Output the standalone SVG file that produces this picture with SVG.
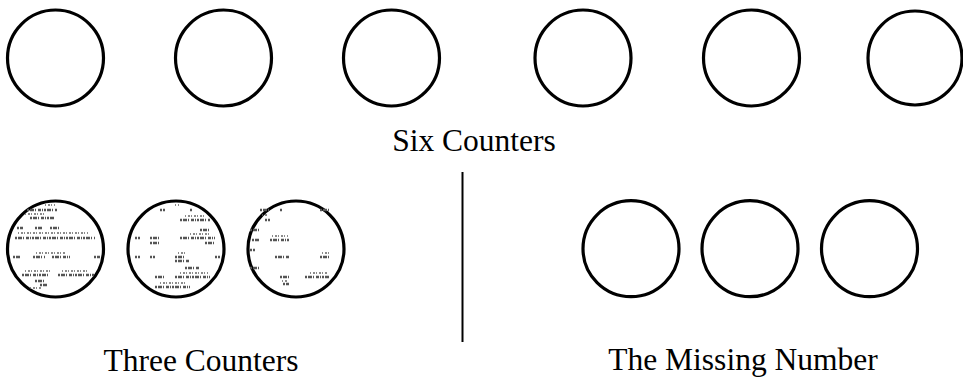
<svg xmlns="http://www.w3.org/2000/svg" width="963" height="379" viewBox="0 0 963 379">
<style>
.c{fill:#fff;stroke:#000;stroke-width:3.2}
.sp{fill:none;stroke:#555;stroke-width:2.5;stroke-dasharray:2 1 4 1 1 2 3 1 1 1}
.sp2{fill:none;stroke:#666;stroke-width:1.5;stroke-dasharray:1 2 2 1}
.t{font-family:"Liberation Serif","Times New Roman",serif;font-size:31.5px;fill:#000;text-anchor:middle}
</style>
<rect width="963" height="379" fill="#fff"/>
<g id="six-counters">
<circle class="c" cx="55.5" cy="58" r="48"/>
<circle class="c" cx="223.5" cy="58" r="48"/>
<circle class="c" cx="391.5" cy="58" r="48"/>
<circle class="c" cx="583" cy="58" r="48"/>
<circle class="c" cx="751.5" cy="58" r="48"/>
<circle class="c" cx="915" cy="58" r="47"/>
</g>
<g id="label-six"><text class="t" x="474" y="151">Six Counters</text></g>
<g id="divider"><line x1="462.5" y1="172" x2="462.5" y2="342" stroke="#000" stroke-width="2"/></g>
<g id="three-counters">
<circle class="c" cx="55.5" cy="249" r="48"/>
<path class="sp" d="M27 210h30M30 218h25M17 228h6M35 228h8M50 228h10M15 238h80M13 257h7M33 257h12M52 257h18M94 257h6M22 275h28M58 275h37M35 281h10M40 285h8"/>
<path class="sp2" d="M45 205h10M25 214h20M18 233h70M36 253h30M25 271h25M62 271h25M30 288h12"/>
<circle class="c" cx="176" cy="249" r="48"/>
<path class="sp" d="M160 210h5M190 210h3M180 220h30M200 230h10M135 238h5M150 238h10M180 238h35M150 243h10M205 243h10M135 257h5M150 257h5M175 257h10M215 257h5M175 261h15M185 268h15M155 277h10M175 277h35M155 287h35"/>
<path class="sp2" d="M175 205h4M185 216h20M190 234h20M178 253h8M180 273h28M160 283h25"/>
<circle class="c" cx="296" cy="249" r="48"/>
<path class="sp" d="M260 210h10M280 210h3M320 210h10M265 220h5M250 230h10M252 240h8M270 240h20M250 250h5M275 257h15M320 257h10M250 268h10M280 277h10M305 277h25M283 284h6"/>
<path class="sp2" d="M262 215h6M272 236h16M322 253h8M310 273h18M282 281h6"/>
</g>
<g id="label-three"><text class="t" x="201" y="371">Three Counters</text></g>
<g id="missing-number">
<circle class="c" cx="631" cy="248.7" r="48"/>
<circle class="c" cx="750" cy="248.7" r="48"/>
<circle class="c" cx="869.5" cy="248.7" r="48"/>
</g>
<g id="label-missing"><text class="t" x="743" y="370">The Missing Number</text></g>
</svg>
